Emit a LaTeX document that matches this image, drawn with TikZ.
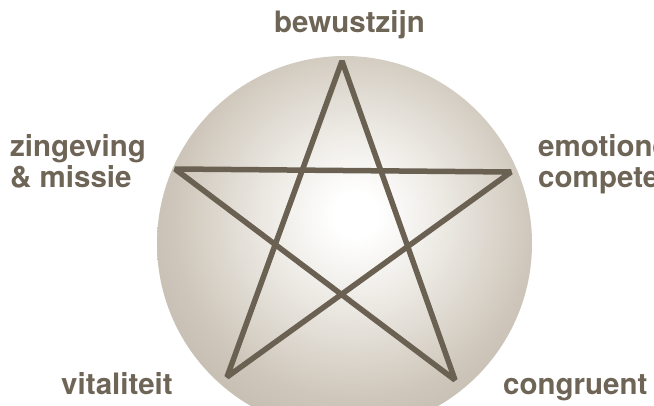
\documentclass[tikz,border=0pt]{standalone}
\usepackage{fontspec}
\setmainfont{TeX Gyre Heros}
\usetikzlibrary{positioning}

\definecolor{ink}{RGB}{110,101,86}
\definecolor{penttone}{RGB}{106,97,82}
\definecolor{glowA}{RGB}{236,233,227}
\definecolor{glowB}{RGB}{206,198,186}
\definecolor{glowC}{RGB}{182,176,163}
\definecolor{glowD}{RGB}{151,153,141}
\pgfdeclareradialshading{glow}{\pgfpoint{1.5bp}{4bp}}{%
  color(0bp)=(white); color(3bp)=(white); color(12bp)=(glowA);
  color(24bp)=(glowB); color(37bp)=(glowC); color(50bp)=(glowD);
  color(100bp)=(glowD)}

\begin{document}
\begin{tikzpicture}[
    x=1pt, y=-1pt,
    word/.style={font=\bfseries\fontsize{29.5}{31}\selectfont, text=ink, inner sep=0pt, align=left},
    orb/.style={circle, minimum size=375pt, inner sep=0pt, shading=glow},
    pentline/.style={draw=penttone, line width=5.5pt, line join=bevel}
]
    \useasboundingbox (0,0) rectangle (654,406);
    \clip (0,0) rectangle (654,406);

    % Disc
    \node (disc) [orb] at (344.5,243.5) {};

    % Star points
    \coordinate (top) at (342,61);
    \coordinate (left) at (175,169);
    \coordinate (right) at (511,172);
    \coordinate (botleft) at (227,377);
    \coordinate (botright) at (455,380);

    % Labels
    \node (bew) [word, anchor=base] at (349.5,33) {bewustzijn};
    \node (zin) [word, anchor=base west] at (10,188) {zingeving\\\& missie};
    \node (emo) [word, anchor=base west] at (538,188) {emotionele\\competentie};
    \node (vit) [word, anchor=base west] at (61,395) {vitaliteit};
    \node (con) [word, anchor=base west] at (503,395) {congruent};

    % Star
    \draw [pentline] (top) -- (botleft) -- (right) -- (left) -- (botright) -- cycle;
\end{tikzpicture}
\end{document}
